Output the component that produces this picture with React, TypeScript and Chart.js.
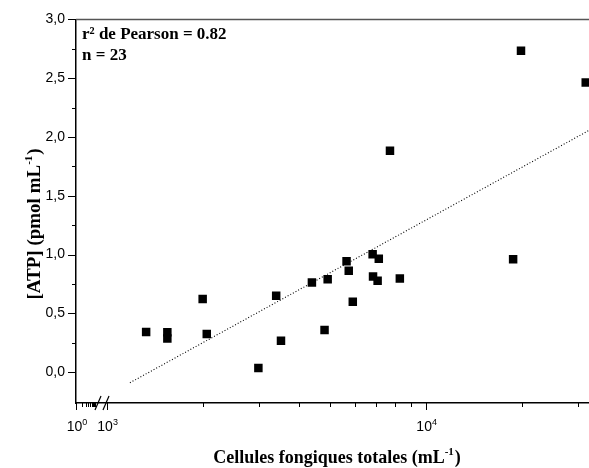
import { useEffect, useRef } from 'react';
import { Chart, registerables } from 'chart.js';

Chart.register(...registerables);

// ---- data ----
const cellCounts = [1330, 1550, 1550, 2000, 2060, 2990, 3400, 3520, 4400, 4820, 4930, 5650, 5740, 5910, 6820, 6840, 7070, 7130, 7730, 8300, 18800, 19900, 31750];
const atpValues = [0.341, 0.339, 0.287, 0.623, 0.324, 0.036, 0.651, 0.268, 0.763, 0.358, 0.79, 0.944, 0.863, 0.598, 1.003, 0.813, 0.777, 0.964, 1.883, 0.796, 0.961, 2.734, 2.464];
const fitX = [1183, 32500];
const fitY = [-0.09, 2.056];

const xTickBase = ['10', '10', '10'];
const xTickExp = ['0', '3', '4'];
const xMajorCounts = [1, 1000, 10000];
const xMinorCounts = [2000, 3000, 4000, 5000, 6000, 7000, 8000, 9000, 20000, 30000];
const firstDecadeMinors = [2, 3, 4, 5, 6, 7, 8, 9];
const yTickValues = [0, 0.5, 1, 1.5, 2, 2.5, 3];
const yTickLabels = ['0,0', '0,5', '1,0', '1,5', '2,0', '2,5', '3,0'];
const yMinorValues = [0.25, 0.75, 1.25, 1.75, 2.25, 2.75];

const xTitle = 'Cellules fongiques totales (mL';
const yTitle = '[ATP] (pmol mL';
const supText = '-1';
const noteLines = ['r² de Pearson = 0.82', 'n = 23'];

// broken log axis: 10^0 is squeezed just left of 10^3
const U0 = 2.904; // axis position of 10^0
const SEG = 0.0627; // width of the squeezed first decade
const U_MAX = 4.512;
const toU = (v: number) => (v < 100 ? U0 + Math.log10(v) * SEG : Math.log10(v));

const SERIF = '"Liberation Serif", "Times New Roman", serif';
const SANS = '"Liberation Sans", Arial, sans-serif';

function drawRich(
  ctx: CanvasRenderingContext2D,
  main: string,
  sup: string,
  tail: string,
  cx: number,
  base: number,
  mainFont: string,
  supFont: string,
  rise: number,
  gap: number
) {
  ctx.font = mainFont;
  const w1 = ctx.measureText(main).width;
  const w3 = tail ? ctx.measureText(tail).width : 0;
  ctx.font = supFont;
  const w2 = ctx.measureText(sup).width;
  let x = cx - (w1 + w2 + w3 + gap) / 2;
  ctx.textAlign = 'left';
  ctx.textBaseline = 'alphabetic';
  ctx.font = mainFont;
  ctx.fillText(main, x, base);
  x += w1;
  ctx.font = supFont;
  ctx.fillText(sup, x, base - rise);
  x += w2 + gap;
  if (tail) {
    ctx.font = mainFont;
    ctx.fillText(tail, x, base);
  }
}

const decorPlugin = {
  id: 'decor',
  afterDraw(chart: any) {
    const { ctx, chartArea: a } = chart;
    const xs = chart.scales.x;
    const ys = chart.scales.y;
    const line = (x1: number, y1: number, x2: number, y2: number) => {
      ctx.beginPath();
      ctx.moveTo(x1, y1);
      ctx.lineTo(x2, y2);
      ctx.stroke();
    };
    ctx.save();
    // top frame
    ctx.strokeStyle = '#555';
    ctx.lineWidth = 1.5;
    line(a.left, a.top, a.right, a.top);
    ctx.strokeStyle = '#000';
    ctx.lineWidth = 1;
    // y ticks
    yTickValues.forEach((v) => {
      const p = Math.round(ys.getPixelForValue(v)) + 0.5;
      line(a.left - 8, p, a.left, p);
    });
    yMinorValues.forEach((v) => {
      const p = Math.round(ys.getPixelForValue(v)) + 0.5;
      line(a.left - 4, p, a.left, p);
    });
    // x ticks
    xMajorCounts.forEach((c) => {
      const p = Math.round(xs.getPixelForValue(toU(c))) + 0.5;
      line(p, a.bottom, p, a.bottom + 7);
    });
    xMinorCounts.forEach((c) => {
      const p = Math.round(xs.getPixelForValue(toU(c))) + 0.5;
      line(p, a.bottom, p, a.bottom + 4);
    });
    firstDecadeMinors.forEach((c) => {
      const p = Math.round(xs.getPixelForValue(toU(c))) + 0.5;
      line(p, a.bottom, p, a.bottom + 4);
    });
    // axis break marks
    ctx.lineWidth = 1.2;
    line(a.left + 19, a.bottom + 7, a.left + 25, a.bottom - 7);
    line(a.left + 27, a.bottom + 7, a.left + 33, a.bottom - 7);
    ctx.fillStyle = '#000';
    // x tick labels (10 with superscript exponent)
    xMajorCounts.forEach((c, i) => {
      const p = xs.getPixelForValue(toU(c));
      drawRich(ctx, xTickBase[i], xTickExp[i], '', p + 1, a.bottom + 28, `14px ${SANS}`, `9px ${SANS}`, 6, 0);
    });
    // annotation
    ctx.font = `bold 17px ${SERIF}`;
    ctx.textAlign = 'left';
    ctx.textBaseline = 'alphabetic';
    ctx.fillText(noteLines[0], a.left + 6, a.top + 20);
    ctx.fillText(noteLines[1], a.left + 6, a.top + 41);
    // axis titles
    drawRich(ctx, xTitle, supText, ')', 337, 463, `bold 18px ${SERIF}`, `bold 11px ${SERIF}`, 8, 1);
    ctx.save();
    ctx.translate(40, 224);
    ctx.rotate(-Math.PI / 2);
    drawRich(ctx, yTitle, supText, ')', 0, 0, `bold 19px ${SERIF}`, `bold 11px ${SERIF}`, 8, 1);
    ctx.restore();
    ctx.restore();
  },
};

export default function App() {
  const ref = useRef<HTMLCanvasElement>(null);
  useEffect(() => {
    const chart = new Chart(ref.current!, {
      type: 'scatter',
      data: {
        datasets: [
          {
            type: 'scatter',
            data: cellCounts.map((c, i) => ({ x: toU(c), y: atpValues[i] })),
            pointStyle: 'rect',
            pointRadius: 6,
            pointHoverRadius: 6,
            backgroundColor: '#000',
            borderWidth: 0,
            order: 1,
          },
          {
            type: 'line',
            data: fitX.map((c, i) => ({ x: toU(c), y: fitY[i] })),
            borderColor: '#000',
            borderWidth: 1.1,
            borderDash: [1, 2],
            pointRadius: 0,
            fill: false,
            order: 2,
          },
        ],
      } as any,
      options: {
        animation: false,
        responsive: true,
        maintainAspectRatio: false,
        layout: { autoPadding: false, padding: { left: 0, right: 0, top: 14, bottom: 0 } },
        plugins: { legend: { display: false }, tooltip: { enabled: false } },
        scales: {
          x: {
            type: 'linear',
            min: U0,
            max: U_MAX,
            grid: { display: false, drawTicks: false },
            border: { display: true, color: '#000', width: 1.5 },
            afterBuildTicks: (s: any) => {
              s.ticks = xMajorCounts.map((c) => ({ value: toU(c) }));
            },
            afterFit: (s: any) => {
              s.height = 65;
            },
            ticks: { display: false },
          },
          y: {
            type: 'linear',
            min: -0.262,
            max: 3,
            grid: { display: false, drawTicks: false },
            border: { display: true, color: '#000', width: 1.5 },
            afterBuildTicks: (s: any) => {
              s.ticks = yTickValues.map((v) => ({ value: v }));
            },
            afterFit: (s: any) => {
              s.width = 76;
            },
            ticks: {
              autoSkip: false,
              padding: 11,
              color: '#000',
              font: { family: SANS, size: 14 },
              callback: (_v: any, i: number) => yTickLabels[i],
            },
          },
        },
      } as any,
      plugins: [decorPlugin],
    });
    return () => chart.destroy();
  }, []);
  return (
    <div style={{ position: 'absolute', left: 0, top: 0, width: 589, height: 468, background: '#fff' }}>
      <canvas ref={ref} />
    </div>
  );
}
